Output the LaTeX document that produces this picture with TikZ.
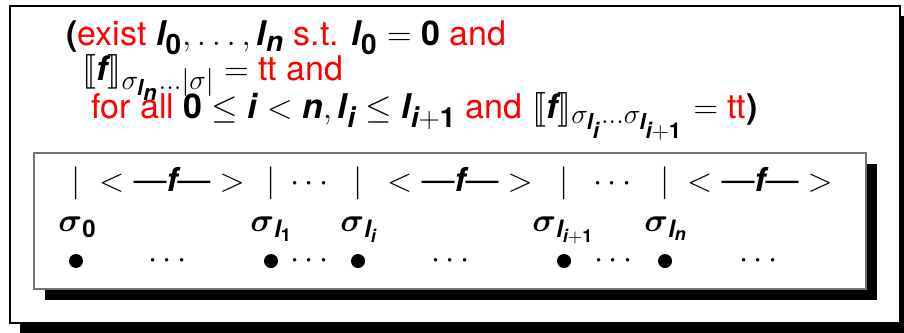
\RequirePackage{fix-cm}
\documentclass[tikz,border=0pt]{standalone}
\usepackage{amsmath,amssymb}
\usepackage{stmaryrd}
\usepackage{fontspec}
\setmainfont{TeX Gyre Heros}
\usepackage{tikz}
\usetikzlibrary{shadows,positioning}
\DeclareMathSizes{17}{17}{14}{11}
\DeclareMathSizes{16.5}{16.5}{12}{9}
\newcommand{\mv}[1]{\text{\bfseries\itshape #1}}
\newcommand{\mb}[1]{\text{\bfseries #1}}
\tikzset{
  outerbox/.style={draw=black, line width=0.8pt, fill=white,
    drop shadow={shadow xshift=5pt, shadow yshift=-5pt, fill=black, opacity=1}},
  innerbox/.style={draw=black!55, line width=0.8pt, fill=white,
    drop shadow={shadow xshift=5.5pt, shadow yshift=-5.5pt, fill=black, opacity=1}},
  formula/.style={anchor=base west, inner sep=0pt, font=\fontsize{17}{20}\selectfont},
  track/.style={anchor=base, inner sep=0pt, font=\fontsize{16.5}{19}\selectfont},
  label/.style={anchor=base west, inner sep=0pt, font=\fontsize{16.5}{19}\selectfont},
  state/.style={circle, fill=black, inner sep=0pt, minimum size=7pt}
}

\begin{document}
\begin{tikzpicture}[x=0.5pt,y=-0.5pt]
\useasboundingbox (0,0) rectangle (904,332);
% frames
\node[outerbox, minimum width=445pt, minimum height=158.5pt] (outer) at (455,164.5) {};
\node[innerbox, minimum width=416pt, minimum height=68pt] (inner) at (450,221) {};
% condition on the positions
\node[formula] (cond1) at (66,46) {\textbf{(}\textcolor{red}{exist} $\mv{l}_{\mb{0}}, \ldots, \mv{l}_{\mv{n}}$ \textcolor{red}{s.t.} $\mv{l}_{\mb{0}} = \mb{0}$ \textcolor{red}{and}};
\node[formula] (cond2) at (82,80) {$\llbracket \mv{f} \rrbracket_{\sigma_{\mv{l}_{\mv{n}}}\ldots|\sigma|} =$ \textcolor{red}{tt and}};
\node[formula] (cond3) at (91,118) {\textcolor{red}{for all} $\mb{0} \leq \mv{i} < \mv{n}, \mv{l}_{\mv{i}} \leq \mv{l}_{\mv{i}+\mb{1}}$ \textcolor{red}{and} $\llbracket \mv{f} \rrbracket_{\sigma_{\mv{l}_{\mv{i}}}\ldots\sigma_{\mv{l}_{\mv{i}+\mb{1}}}} =$ \textcolor{red}{tt}\textbf{)}};
% the word cut into pieces
\foreach \x [count=\k from 0] in {76,271,358,564,665} {
  \node[track] (cut\k) at (\x,191) {$|$};
  \node[state] (pt\k) at (\x,261) {};
}
\node[track] (seg0) at (172,191) {$<\text{—\mv{f}—}>$};
\node[track] (seg1) at (460,191) {$<\text{—\mv{f}—}>$};
\node[track] (seg2) at (760,191) {$<\text{—\mv{f}—}>$};
\node[track] (gap0) at (312,191) {$\cdots$};
\node[track] (gap1) at (615,191) {$\cdots$};
% positions
\node[label] (lab0) at (58,231) {$\boldsymbol{\sigma}_{\mb{0}}$};
\node[label] (lab1) at (250,231) {$\boldsymbol{\sigma}_{\mv{l}_{\mb{1}}}$};
\node[label] (lab2) at (340,231) {$\boldsymbol{\sigma}_{\mv{l}_{\mv{i}}}$};
\node[label] (lab3) at (532,231) {$\boldsymbol{\sigma}_{\mv{l}_{\mv{i}+\mb{1}}}$};
\node[label] (lab4) at (644,231) {$\boldsymbol{\sigma}_{\mv{l}_{\mv{n}}}$};
\foreach \x [count=\k from 0] in {170,312,453,616,761}
  \node[track, anchor=center] (skip\k) at (\x,261) {$\cdots$};
\end{tikzpicture}
\end{document}
